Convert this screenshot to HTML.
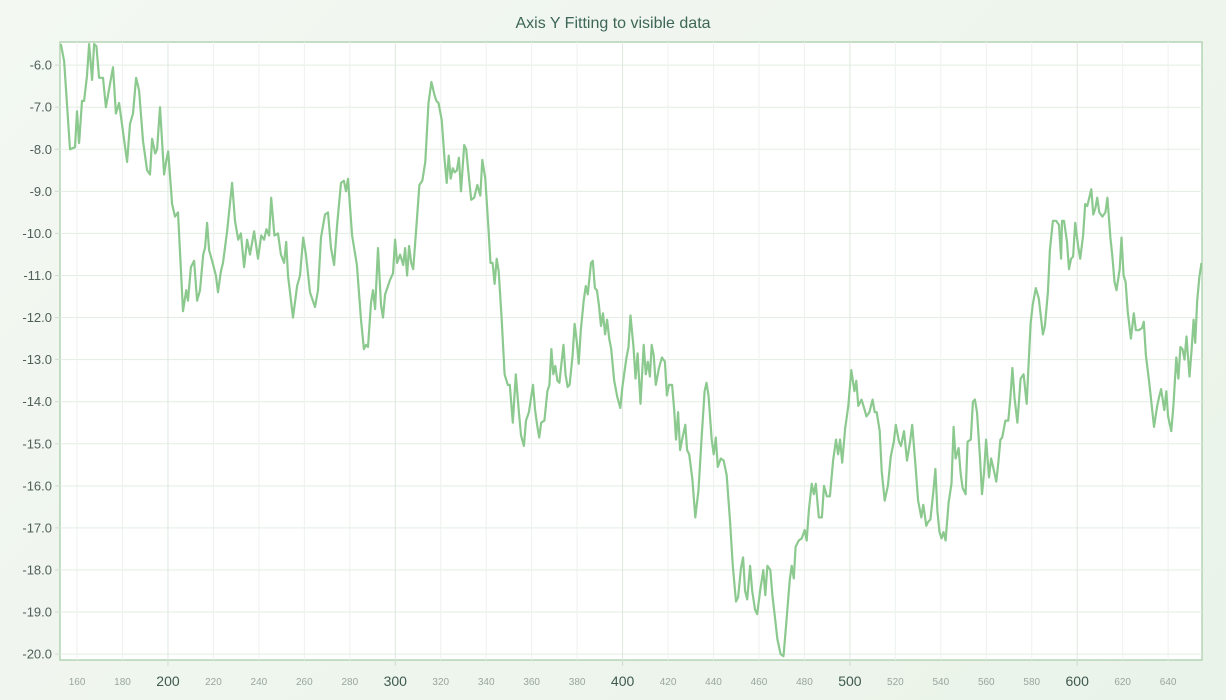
<!DOCTYPE html>
<html><head><meta charset="utf-8"><style>
html,body{margin:0;padding:0;}
body{width:1226px;height:700px;background:linear-gradient(135deg,#f3f8f2 0%,#eaf3e9 100%);font-family:"Liberation Sans",sans-serif;overflow:hidden;}
</style></head><body>
<svg id="chart" width="1226" height="700" xmlns="http://www.w3.org/2000/svg" style="position:absolute;left:0;top:0"></svg>
<script>
const xs=[152.9,154.3,156.9,159.1,160,160.9,162.2,163.1,164.4,165.3,166.6,167.5,168.5,169.7,171.4,172.7,175.8,177.1,178.5,182,183.3,184.6,186,187.3,189,190.8,192.1,193,194.4,195.2,196.5,198.3,199.3,200.1,201.8,203.1,204.4,206.6,208,208.8,210.1,211.5,212.8,214.1,215.5,216.3,217.2,218.1,219.4,221.1,222,223.3,224.2,226,228.2,229.5,230.9,232.1,233.5,234.8,236.1,237.9,239.6,241,242.3,243.3,244.5,245.4,246.8,248.4,249.7,251.1,252,252.8,255,256.8,258.1,259.5,260.7,262.5,264.7,266,267.3,269.1,270.4,271.7,273.1,274.4,276.1,277.4,278.3,279.2,281,283.1,284.9,286.2,287.1,288,289.3,290.2,291.1,292.4,293.7,294.6,295.5,296.8,297.7,299,299.9,300.8,302.1,303.5,304.3,305.2,306.1,307,307.9,309.2,310.6,311.9,313.2,314.6,315.9,317.2,318.1,319,320.4,321.7,322.6,323.5,324.4,325.3,326.2,327.1,328,328.9,330.3,331.2,332.1,333.4,334.7,336.1,337.4,338.3,339.6,341,341.9,342.8,343.7,344.6,345.5,346.8,348.1,349.5,350.4,351.7,353,354.4,355.3,356.6,357.5,358.8,360.6,361.5,362.4,363.3,364.2,365.6,366.9,367.8,368.7,369.5,370.4,371.3,372.2,373.1,374,374.9,375.8,376.7,378,378.9,379.8,380.7,381.6,382.9,383.8,384.7,386.1,386.9,387.8,388.7,389.6,390.5,391.4,392.3,393.2,394.1,395,396.3,397.7,399,399.9,400.8,401.7,402.6,403.5,404.8,405.7,406.6,407.9,409.3,410.2,411.1,412,412.8,413.7,414.6,416,417.3,418.6,419.5,420.4,421.8,422.7,423.5,424.4,425.3,426.2,427.6,428.4,429.3,430.7,432,433.4,434.7,436.1,436.9,437.8,439.2,440.1,441,441.9,443.2,444.5,445.8,447.2,448.5,449.9,450.8,452.1,453,453.9,454.8,456.1,457,458.3,459.2,460.5,461.9,462.8,463.7,465,465.9,467.2,468.1,469.5,470.8,472.1,473.5,474.4,475.3,476.1,477.5,478.8,480.1,481,481.9,483.2,484.1,485,486.3,487.7,488.6,489.9,491.2,492.6,493.9,494.8,495.7,496.6,497.9,499.3,500.6,502,502.8,503.7,505.1,506,507.3,508.6,510,510.9,511.8,513.1,514,515.3,516.7,518,519.3,520.2,521.6,522.5,523.8,525.1,526.5,527.4,528.7,530,531.4,532.3,533.6,534.5,535.4,536.7,537.6,538.5,539.4,540.3,541.2,542.1,543.4,544.7,545.6,546.5,547.8,548.7,549.6,550.9,551.8,553.2,554.1,555,555.9,557.2,558.1,559,559.9,561.2,562.1,563,564.4,565.3,566.2,567,568.4,569.7,570.6,571.5,572.4,573.7,575.1,576.4,577.8,578.6,579.5,580.4,581.8,583.1,584.9,585.8,587.1,588,589.3,590.7,592,592.9,593.3,594.2,595.5,596.4,597.3,598.2,599.1,600.4,601.3,602.6,603.5,604.4,605.3,606.2,607.1,608,608.8,609.7,611.1,612.4,613.3,614.6,615.5,616.4,617.3,618.7,619.5,620.4,621.3,622.2,623.6,624.9,625.8,627.1,628.5,629.3,630.2,631.6,632.5,633.8,635.2,636,636.9,638.3,639.2,640,641.4,642.3,643.6,644.5,645.4,646.3,647.2,648.1,649.4,650.3,651.2,651.9,652.8,653.7,654.7];
const ys=[-5.5,-5.9,-8.0,-7.95,-7.1,-7.85,-6.85,-6.85,-6.25,-5.5,-6.35,-5.5,-5.55,-6.3,-6.3,-7.0,-6.05,-7.15,-6.9,-8.3,-7.4,-7.15,-6.3,-6.6,-7.8,-8.5,-8.6,-7.75,-8.1,-8.0,-7.0,-8.6,-8.25,-8.05,-9.3,-9.6,-9.5,-11.85,-11.35,-11.6,-10.8,-10.65,-11.6,-11.35,-10.5,-10.35,-9.75,-10.4,-10.65,-11.0,-11.4,-10.9,-10.7,-9.95,-8.8,-9.7,-10.15,-10.0,-10.8,-10.15,-10.5,-9.95,-10.6,-10.05,-10.15,-9.9,-10.05,-9.15,-10.05,-10.0,-10.5,-10.7,-10.2,-11.0,-12.0,-11.25,-11.0,-10.1,-10.5,-11.4,-11.75,-11.35,-10.1,-9.55,-9.5,-10.35,-10.75,-9.8,-8.8,-8.75,-9.0,-8.7,-10.05,-10.75,-12.05,-12.75,-12.65,-12.7,-11.65,-11.35,-11.8,-10.35,-11.7,-12.0,-11.45,-11.25,-11.1,-10.95,-10.15,-10.7,-10.5,-10.75,-10.35,-11.0,-10.3,-10.7,-10.85,-9.9,-8.85,-8.75,-8.3,-6.9,-6.4,-6.7,-6.85,-6.9,-7.3,-8.25,-8.8,-8.15,-8.7,-8.45,-8.55,-8.5,-8.2,-9.0,-7.9,-8.0,-8.5,-9.2,-9.15,-8.85,-9.1,-8.25,-8.7,-9.9,-10.7,-10.7,-11.2,-10.6,-10.9,-12.05,-13.35,-13.6,-13.6,-14.5,-13.35,-14.25,-14.8,-15.05,-14.45,-14.25,-13.6,-14.2,-14.55,-14.85,-14.5,-14.45,-13.75,-13.6,-12.75,-13.35,-13.15,-13.5,-13.55,-13.1,-12.65,-13.35,-13.65,-13.6,-12.9,-12.15,-12.55,-13.1,-12.3,-11.6,-11.25,-11.45,-10.7,-10.65,-11.3,-11.35,-11.7,-12.2,-11.9,-12.4,-12.05,-12.5,-12.75,-13.5,-13.9,-14.15,-13.65,-13.3,-12.95,-12.7,-11.95,-12.7,-13.45,-12.85,-14.05,-12.65,-13.35,-13.05,-13.4,-12.65,-12.9,-13.6,-13.2,-12.95,-13.05,-13.85,-13.6,-13.6,-14.2,-14.9,-14.25,-15.15,-14.9,-14.55,-15.15,-15.25,-15.85,-16.75,-16.1,-14.9,-13.75,-13.55,-13.85,-14.9,-15.25,-14.85,-15.55,-15.35,-15.4,-15.75,-16.8,-17.9,-18.75,-18.65,-17.95,-17.7,-18.5,-18.7,-17.9,-18.5,-18.95,-19.05,-18.5,-18.0,-18.6,-17.9,-18.0,-18.6,-19.2,-19.65,-20.0,-20.05,-19.2,-18.25,-17.9,-18.2,-17.45,-17.3,-17.25,-17.05,-17.3,-16.6,-15.95,-16.2,-15.95,-16.75,-16.75,-16.0,-16.25,-16.25,-15.4,-14.9,-15.25,-14.9,-15.45,-14.65,-14.1,-13.25,-13.75,-13.5,-14.1,-13.95,-14.1,-14.35,-14.25,-13.95,-14.25,-14.25,-14.7,-15.65,-16.35,-16.0,-15.3,-14.95,-14.55,-14.95,-15.05,-14.7,-15.4,-14.95,-14.55,-15.4,-16.35,-16.75,-16.45,-16.95,-16.85,-16.8,-16.15,-15.6,-16.6,-17.1,-17.25,-17.1,-17.3,-16.4,-15.95,-14.6,-15.35,-15.1,-15.7,-16.05,-16.2,-14.95,-14.9,-14.0,-13.95,-14.25,-15.3,-16.2,-15.7,-14.9,-15.8,-15.35,-15.55,-15.9,-15.45,-14.9,-14.85,-14.45,-14.45,-13.9,-13.2,-13.9,-14.5,-13.45,-13.35,-14.05,-13.1,-12.15,-11.7,-11.3,-11.55,-12.4,-12.2,-11.4,-10.4,-9.7,-9.7,-9.8,-10.6,-9.7,-9.7,-10.2,-10.85,-10.6,-10.55,-9.75,-10.3,-10.6,-10.05,-9.3,-9.35,-9.15,-8.95,-9.55,-9.4,-9.15,-9.5,-9.6,-9.5,-9.15,-10.1,-10.55,-11.15,-11.35,-10.85,-10.1,-11.0,-11.15,-11.85,-12.5,-11.9,-12.3,-12.3,-12.25,-12.1,-12.9,-13.5,-13.95,-14.6,-14.1,-13.9,-13.7,-14.2,-13.75,-14.35,-14.7,-14.1,-12.95,-13.45,-12.7,-12.75,-13.0,-12.45,-13.4,-12.8,-12.05,-12.6,-11.6,-11.05,-10.7];
const yTicks=[-6,-7,-8,-9,-10,-11,-12,-13,-14,-15,-16,-17,-18,-19,-20];
const xTicks=[160,180,200,220,240,260,280,300,320,340,360,380,400,420,440,460,480,500,520,540,560,580,600,620,640];

const NS='http://www.w3.org/2000/svg';
const svg=document.getElementById('chart');
const L=60,R=1202,T=42,B=660;
const xMin=152.5,xMax=654.9,yMin=-20.14,yMax=-5.45;
const sx=v=>L+(v-xMin)/(xMax-xMin)*(R-L);
const sy=v=>B-(v-yMin)/(yMax-yMin)*(B-T);
function mk(tag,attrs){const e=document.createElementNS(NS,tag);for(const k in attrs)e.setAttribute(k,attrs[k]);svg.appendChild(e);return e;}

const title=mk('text',{x:613,y:28,'text-anchor':'middle','font-size':16,fill:'#3d6656','font-family':'Liberation Sans, sans-serif'});
title.textContent='Axis Y Fitting to visible data';



const plot=mk('rect',{x:L,y:T,width:R-L,height:B-T,fill:'#ffffff',stroke:'#b3d4b3','stroke-width':1.5});



for(const t of yTicks){
  const y=sy(t);
  const g=mk('line',{x1:L,x2:R,y1:y,y2:y,stroke:'#e3ede3','stroke-width':1});
  
  
  mk('line',{x1:L-5,x2:L,y1:y,y2:y,stroke:'#cfdccf'});
  const lb=mk('text',{x:L-8,y:y+4.5,'text-anchor':'end','font-size':13,fill:'#4f5f58','font-family':'Liberation Sans, sans-serif'});
  lb.textContent=t.toFixed(1);
  
  
}
for(const t of xTicks){
  const x=sx(t);const major=t%100===0;
  const g=mk('line',{x1:x,x2:x,y1:T,y2:B,stroke:major?'#dde8dd':'#edf2ed','stroke-width':1});
  
  
  if(major) mk('line',{x1:x,x2:x,y1:B,y2:B+6,stroke:'#cfdccf'});
  const lb=mk('text',{x:x,y:major?686:685,'text-anchor':'middle','font-size':major?14:10,fill:major?'#3f5a50':'#9aa59f','font-family':'Liberation Sans, sans-serif'});
  lb.textContent=String(t);
  
  
}
let d='';
for(let i=0;i<xs.length;i++){d+=(i?'L':'M')+sx(xs[i]).toFixed(1)+','+sy(ys[i]).toFixed(1);}
const clip=mk('clipPath',{id:'pc'});
const cr=document.createElementNS(NS,'rect');cr.setAttribute('x',L);cr.setAttribute('y',T);cr.setAttribute('width',R-L);cr.setAttribute('height',B-T);clip.appendChild(cr);
const line=mk('path',{d:d,fill:'none',stroke:'#8cc98f','stroke-width':2.2,'stroke-linejoin':'round','clip-path':'url(#pc)'});


</script>
</body></html>
